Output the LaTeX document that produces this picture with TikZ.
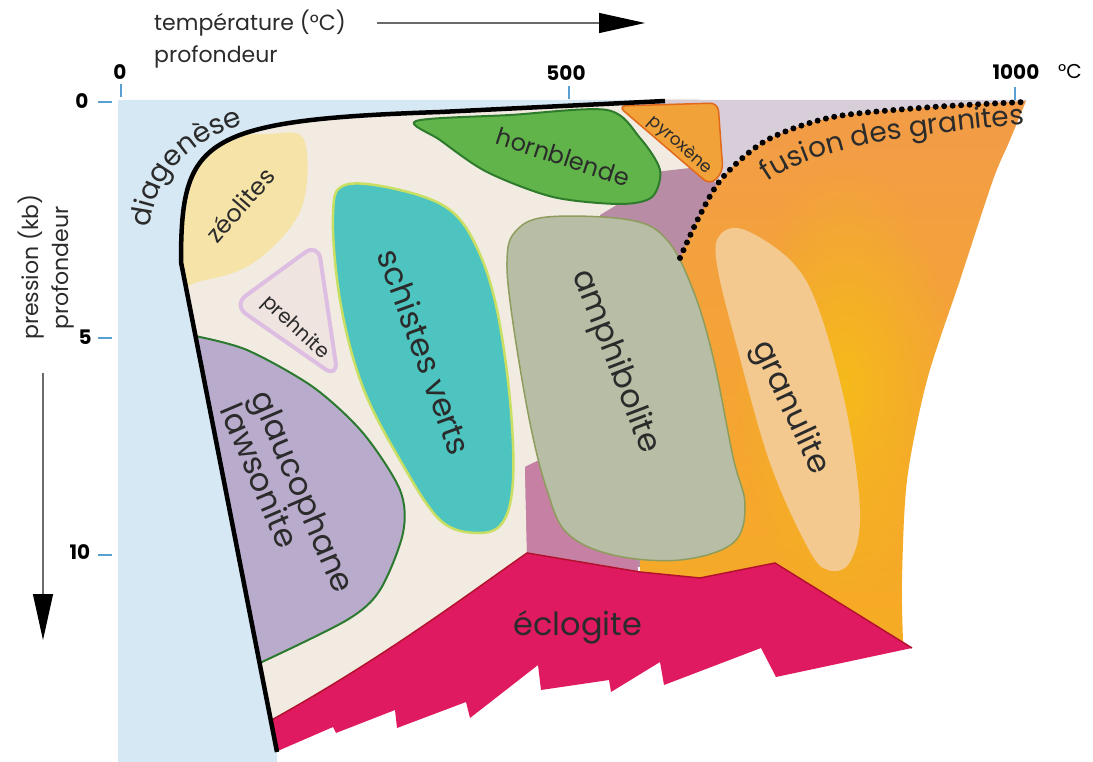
\documentclass[tikz,border=0pt]{standalone}
\usepackage{fontspec}
\setmainfont{Poppins}
\usepackage{xcolor}
\usetikzlibrary{arrows.meta,decorations.text,fadings}

\definecolor{diagblue}{HTML}{D6E8F3}
\definecolor{cream}{HTML}{F2EBE1}
\definecolor{zeol}{HTML}{F6E3A8}
\definecolor{prehfill}{HTML}{F0E4E1}
\definecolor{prehline}{HTML}{DDBEE2}
\definecolor{schist}{HTML}{4DC4C0}
\definecolor{schistline}{HTML}{C8DF63}
\definecolor{glauco}{HTML}{B9ABCC}
\definecolor{glaucline}{HTML}{2C7A30}
\definecolor{hornb}{HTML}{60B449}
\definecolor{hornbline}{HTML}{2F7B2C}
\definecolor{pyrox}{HTML}{F1A238}
\definecolor{pyroxline}{HTML}{E2691C}
\definecolor{lavend}{HTML}{D8CEDA}
\definecolor{mauve}{HTML}{B88CA4}
\definecolor{mauvelow}{HTML}{C680A3}
\definecolor{amphi}{HTML}{B7BEA5}
\definecolor{amphiline}{HTML}{8E9D5D}
\definecolor{orangetop}{HTML}{F29C48}
\definecolor{orangebot}{HTML}{F6AC22}
\definecolor{ospot}{HTML}{F6BC18}
\definecolor{granul}{HTML}{F3C98F}
\definecolor{eclog}{HTML}{E01A60}
\definecolor{eclogline}{HTML}{B3122E}
\definecolor{labeltext}{HTML}{2B2B2B}
\definecolor{axisgray}{HTML}{6A6A6A}
\definecolor{tickblue}{HTML}{5A9FD2}

\tikzfading[name=softspot, inner color=transparent!10, outer color=transparent!100]

\newcommand\curvefont{\fontsize{28}{28}\selectfont\color{labeltext}}

\begin{document}
\begin{tikzpicture}[x=1pt, y=-1pt,
    zone/.style={font=\fontsize{32}{32}\selectfont, text=labeltext, inner sep=0pt},
    smallzone/.style={zone, font=\fontsize{24}{24}\selectfont},
    axislabel/.style={font=\fontsize{22}{22}\selectfont, text=labeltext, inner sep=0pt, anchor=base west},
    axisnum/.style={font=\bfseries\fontsize{20}{20}\selectfont, inner sep=0pt},
    axistick/.style={draw=tickblue, line width=2pt},
    axisarrow/.style={draw=axisgray, line width=1.2pt, -{Triangle[length=46pt,width=20pt,color=black]}},
    rim/.style={draw=black, line width=4.5pt, line join=round},
    fusion/.style={draw=black, line width=6pt, line cap=round, dash pattern=on 0pt off 8.5pt}
]
\useasboundingbox (0,0) rectangle (1093,762);

% Diagenesis field
\fill[diagblue] (118,100) -- (665,100) -- (665,101) -- (440,112)
    .. controls (200,120) and (181,140) .. (181,262) -- (277,752)
    -- (277,762) -- (118,762) -- cycle;

% Metamorphic fields, inside the rim
\begin{scope}
\clip (665,101) -- (440,112) .. controls (200,120) and (181,140) .. (181,262)
    -- (277,752) -- (277,762) -- (1093,762) -- (1093,99) -- (665,99) -- cycle;

\fill[cream] (150,99) -- (700,99) -- (700,575) -- (527,553)
    .. controls (460,600) and (380,660) .. (268,722) -- (150,722) -- cycle;
\fill[lavend] (620,100) -- (1026,100)
    -- plot[smooth] coordinates {(1026,101) (933,107) (833,117) (767,140) (723,177)}
    -- (710,185) -- cycle;
\fill[mauve] (600,215) -- (625,200) -- (655,172) -- (690,168) -- (718,184)
    -- (725,176) -- (700,215) -- (680,258) -- (660,300) -- (640,567)
    -- (527,553) -- (525,467) -- (560,450) -- (600,260) -- cycle;
\fill[mauvelow] (525,467) -- (560,450) -- (620,470) -- (640,580) -- (527,553) -- cycle;

% Granite melting field
\begin{scope}
\clip plot[smooth] coordinates {(1026,101) (933,107) (833,117) (767,140) (723,177) (700,215) (680,258)}
    -- (650,300) -- (640,567) -- (642,592) -- (700,592) -- (775,576) -- (903,646)
    -- plot[smooth] coordinates {(903,640) (902,580) (907,480) (927,380) (960,280) (993,180) (1010,140) (1026,101)}
    -- cycle;
\shade[top color=orangetop, bottom color=orangebot] (630,95) rectangle (1040,660);
\fill[ospot, path fading=softspot] (845,385) ellipse (110 and 220);
\end{scope}

\fill[granul] plot[smooth cycle, tension=0.6] coordinates {(720,235) (745,230) (793,263)
    (820,313) (847,413) (860,513) (850,562) (828,570) (808,548) (770,463) (737,347) (717,265)};
\filldraw[fill=amphi, draw=amphiline, line width=1.5pt]
    plot[smooth cycle, tension=0.6] coordinates {(515,232) (547,217) (630,220) (667,240)
    (693,290) (713,357) (733,457) (745,505) (733,543) (680,560) (613,555) (567,533)
    (547,490) (530,423) (513,323) (507,262)};
\filldraw[fill=schist, draw=schistline, line width=2.5pt]
    plot[smooth cycle, tension=0.6] coordinates {(345,185) (400,190) (450,210) (478,250)
    (497,310) (510,400) (513,480) (503,522) (478,533) (440,520) (400,460) (362,385)
    (340,300) (333,215)};
\filldraw[fill=hornb, draw=hornbline, line width=2pt]
    plot[smooth cycle, tension=0.5] coordinates {(416,121) (510,115) (607,110) (640,138)
    (660,170) (652,197) (620,204) (553,197) (487,172) (440,140)};
\filldraw[fill=pyrox, draw=pyroxline, line width=1.5pt, rounded corners=8pt]
    (618,106) -- (718,103) -- (723,172) -- (710,185) -- cycle;
\fill[zeol] plot[smooth cycle, tension=0.6] coordinates {(160,175) (220,140) (270,134)
    (303,138) (306,190) (290,228) (250,265) (205,280) (160,282)};
\filldraw[fill=prehfill, draw=prehline, line width=4pt, rounded corners=16pt]
    (318,243) -- (338,378) -- (233,305) -- cycle;
\filldraw[fill=glauco, draw=glaucline, line width=2pt]
    plot[smooth] coordinates {(195,336) (247,350) (313,387) (363,433) (400,490)
    (403,533) (380,590) (347,620) (262,662)} -- (150,700) -- (150,330) -- cycle;

% Eclogite field
\fill[eclog] (268,722) .. controls (380,660) and (460,600) .. (527,553)
    -- (640,572) -- (700,578) -- (775,563) -- (912,648) -- (776,677) -- (761,648)
    -- (664,685) -- (660,662) -- (611,692) -- (609,680) -- (541,690) -- (538,665)
    -- (470,718) -- (466,702) -- (397,728) -- (395,710) -- (336,733) -- (333,727)
    -- (273,753) -- cycle;
\draw[eclogline, line width=1.5pt] (268,722) .. controls (380,660) and (460,600) .. (527,553)
    -- (640,572) -- (700,578) -- (775,563) -- (912,648);
\end{scope}

% Granite melting curve and rim
\draw[fusion] plot[smooth] coordinates {(680,258) (700,215) (723,177) (767,140) (833,117) (933,107) (1025,102)};
\draw[rim] (665,101) -- (440,112) .. controls (200,120) and (181,140) .. (181,262) -- (277,752);

% Field labels
\node[zone, rotate=-70] (schistes) at (425,352) {schistes verts};
\node[zone, rotate=-69] (amphibolite) at (615,362) {amphibolite};
\node[zone, rotate=-65] (granulite) at (790,408) {granulite};
\node[zone, rotate=-67, align=left] (glaucophane) at (288,498) {glaucophane\\lawsonite};
\node[zone] (eclogite) at (578,627) {éclogite};
\node[smallzone, rotate=-18] (hornblende) at (563,157) {hornblende};
\node[smallzone, rotate=49] (zeolites) at (240,205) {zéolites};
\node[smallzone, rotate=-43, font=\fontsize{20}{20}\selectfont] (prehnite) at (295,328) {prehnite};
\node[smallzone, rotate=-41, font=\fontsize{17}{17}\selectfont] (pyroxene) at (680,145) {pyroxène};
\path[decorate, decoration={text along path, text align=left, text={|\curvefont|diagenèse}}]
    (150,228) .. controls (155,175) and (190,135) .. (265,120);
\path[decorate, decoration={text along path, text align=left, text={|\curvefont|fusion des granites}}]
    (768,182) .. controls (815,150) and (880,136) .. (1060,121);

% Temperature axis
\node[axislabel] (temp) at (154,31) {température (°C)};
\node[axislabel] (depthtop) at (154,63) {profondeur};
\coordinate (tstart) at (377,23);
\coordinate (tend) at (645,23);
\draw[axisarrow] (tstart) -- (tend);
\node[axisnum] (t0) at (120,72) {0};
\node[axisnum] (t500) at (566,73) {500};
\node[axisnum] (t1000) at (1016,72) {1000};
\node[font=\fontsize{20}{20}\selectfont, inner sep=0pt] (tunit) at (1070,72) {°C};
\draw[axistick] (121,84) -- (121,97);
\draw[axistick] (569,86) -- (569,99);
\draw[axistick] (1015,87) -- (1015,100);

% Pressure axis
\node[axislabel, rotate=90] (press) at (38,340) {pression (kb)};
\node[axislabel, rotate=90] (depthleft) at (68,330) {profondeur};
\coordinate (pstart) at (43,373);
\coordinate (pend) at (43,640);
\draw[axisarrow] (pstart) -- (pend);
\node[axisnum] (p0) at (82,101) {0};
\node[axisnum] (p5) at (85,337) {5};
\node[axisnum] (p10) at (80,552) {10};
\draw[axistick] (98,102) -- (112,102);
\draw[axistick] (98,338) -- (112,338);
\draw[axistick] (98,555) -- (112,555);
\end{tikzpicture}
\end{document}
